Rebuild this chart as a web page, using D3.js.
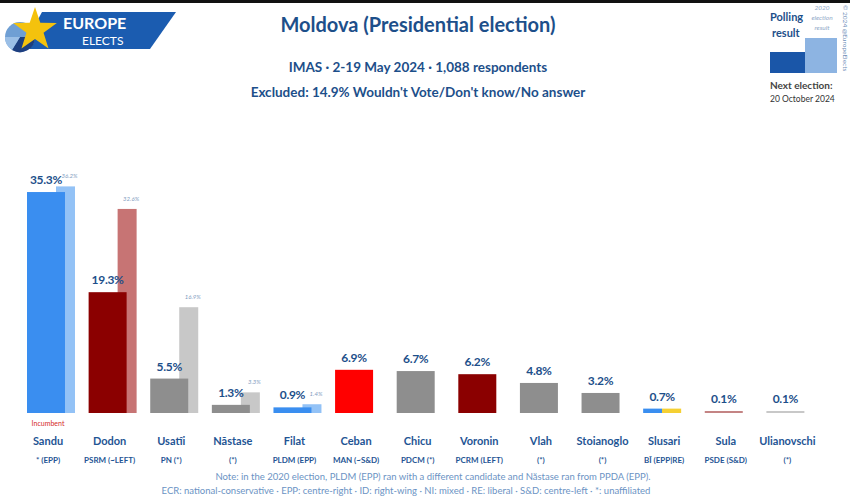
<!DOCTYPE html>
<html><head><meta charset="utf-8">
<script src="https://cdn.jsdelivr.net/npm/d3@7"></script>
<style>
body{margin:0;background:#fff;}
svg{display:block;font-family:Lato,"Open Sans",sans-serif;}
</style></head>
<body><svg id="c" width="850" height="499"></svg>
<script>
const candidates = ["Sandu","Dodon","Usatîi","Năstase","Filat","Ceban","Chicu","Voronin","Vlah","Stoianoglo","Slusari","Sula","Ulianovschi"];
const parties = ["* (EPP)","PSRM (~LEFT)","PN (*)","(*)","PLDM (EPP)","MAN (~S&D)","PDCM (*)","PCRM (LEFT)","(*)","(*)","BÎ (EPP|RE)","PSDE (S&D)","(*)"];
const polling = [35.3,19.3,5.5,1.3,0.9,6.9,6.7,6.2,4.8,3.2,0.7,0.1,0.1];
const previous = [36.2,32.6,16.9,3.3,1.4,null,null,null,null,null,null,null,null];
const barColors = ["#3a8ef0","#8b0000","#8e8e8e","#8e8e8e","#3a8ef0","#ff0000","#8e8e8e","#8b0000","#8e8e8e","#8e8e8e","split","#c48484","#c8c8c8"];
const prevColors = ["#93c2f6","#c77474","#c8c8c8","#c8c8c8","#93c2f6",null,null,null,null,null,null,null,null];

const svg = d3.select("#c");
const navy = "#1d4f8a";

svg.append("rect").attr("x",0).attr("y",0).attr("width",850).attr("height",3).attr("fill","#111");

const defs = svg.append("defs");
const g = defs.append("linearGradient").attr("id","split").attr("x1","0").attr("x2","1").attr("y1","0").attr("y2","0");
g.append("stop").attr("offset","0%").attr("stop-color","#3a8ef0");
g.append("stop").attr("offset","50%").attr("stop-color","#3a8ef0");
g.append("stop").attr("offset","50%").attr("stop-color","#f5d033");
g.append("stop").attr("offset","100%").attr("stop-color","#f5d033");

const x = d3.scaleBand().domain(candidates).range([17, 818]).paddingInner(0).paddingOuter(0);
const y = d3.scaleLinear().domain([0, 36.2]).range([413, 186.4]);
const mainOff = 10, mainW = 38, prevOff = 39, prevW = 19;

const data = candidates.map((c,i)=>({c, p:parties[i], v:polling[i], pv:previous[i], col:barColors[i], pcol:prevColors[i]}));

svg.append("g").selectAll("rect").data(data.filter(d=>d.pv!=null)).join("rect")
  .attr("x", d=>x(d.c)+prevOff).attr("width", prevW)
  .attr("y", d=>y(d.pv)).attr("height", d=>y(0)-y(d.pv))
  .attr("fill", d=>d.pcol);
svg.append("g").selectAll("text").data(data.filter(d=>d.pv!=null)).join("text")
  .attr("x", d=>x(d.c)+prevOff+prevW/2+4).attr("y", d=>y(d.pv)-8)
  .attr("text-anchor","middle").attr("font-size",6).attr("font-style","italic")
  .attr("fill","#7f9cc0").text(d=>d.pv.toFixed(1)+"%");

svg.append("g").selectAll("rect").data(data).join("rect")
  .attr("x", d=>x(d.c)+mainOff).attr("width", mainW)
  .attr("y", d=>Math.min(y(d.v), y(0)-2)).attr("height", d=>Math.max(y(0)-y(d.v),2))
  .attr("fill", d=>d.col==="split"?"url(#split)":d.col);

svg.append("g").selectAll("text").data(data).join("text")
  .attr("x", d=>x(d.c)+mainOff+mainW/2).attr("y", d=>Math.min(y(d.v), y(0)-2)-8)
  .attr("text-anchor","middle").attr("font-size",12).attr("font-weight",700)
  .attr("fill",navy).attr("letter-spacing","-0.3").text(d=>d.v.toFixed(1)+"%");

svg.append("g").selectAll("text").data(data).join("text")
  .attr("x", d=>x(d.c)+mainOff+mainW/2+2).attr("y", 445)
  .attr("text-anchor","middle").attr("font-size",11).attr("font-weight",700)
  .attr("fill","#1f5594").text(d=>d.c);
svg.append("g").selectAll("text").data(data).join("text")
  .attr("x", d=>x(d.c)+mainOff+mainW/2+2).attr("y", 463)
  .attr("text-anchor","middle").attr("font-size",8).attr("font-weight",700)
  .attr("fill","#1f5594").text(d=>d.p);

svg.append("text").attr("x", x("Sandu")+mainOff+mainW/2+2).attr("y",426)
  .attr("text-anchor","middle").attr("font-size",7).attr("fill","#d42a2a").text("Incumbent");

svg.append("text").attr("x",418).attr("y",32).attr("text-anchor","middle")
  .attr("font-size",20).attr("font-weight",700).attr("fill",navy).text("Moldova (Presidential election)");
svg.append("text").attr("x",418).attr("y",72).attr("text-anchor","middle")
  .attr("font-size",13.5).attr("font-weight",700).attr("fill",navy).text("IMAS · 2-19 May 2024 · 1,088 respondents");
svg.append("text").attr("x",418).attr("y",97).attr("text-anchor","middle")
  .attr("font-size",13.5).attr("font-weight",700).attr("fill",navy).text("Excluded: 14.9% Wouldn't Vote/Don't know/No answer");

svg.append("text").attr("x",433).attr("y",480).attr("text-anchor","middle")
  .attr("font-size",9.5).attr("fill","#6b93c4").text("Note: in the 2020 election, PLDM (EPP) ran with a different candidate and Năstase ran from PPDA (EPP).");
svg.append("text").attr("x",406).attr("y",494).attr("text-anchor","middle")
  .attr("font-size",9.5).attr("fill","#6b93c4").text("ECR: national-conservative · EPP: centre-right · ID: right-wing · NI: mixed · RE: liberal · S&D: centre-left · *: unaffiliated");

const logo = svg.append("g");
logo.append("path").attr("d","M42,12 L176,12 L150,49 L22,49 Z").attr("fill","#1b5cb0");
logo.append("circle").attr("cx",20).attr("cy",37).attr("r",15).attr("fill","#6f9fd4");
logo.append("path").attr("d","M20,37 L35,37 A15,15 0 0,1 12,50 Z").attr("fill","#1d3f80");
logo.append("path").attr("d","M20,37 L12,50 A15,15 0 0,1 5,37 Z").attr("fill","#9bbfe6");
const star = d3.range(10).map(i=>{const a=-Math.PI/2+i*Math.PI/5; const r=i%2?9:23; return [35+r*Math.cos(a), 30+r*Math.sin(a)];});
logo.append("path").attr("d","M"+star.map(p=>p.join(",")).join("L")+"Z").attr("fill","#f4c20d");
logo.append("text").attr("x",63).attr("y",29).attr("font-size",16).attr("font-weight",700).attr("fill","#fff").text("EUROPE");
logo.append("text").attr("x",82).attr("y",45).attr("font-size",12).attr("fill","#fff").text("ELECTS");

const lg = svg.append("g");
lg.append("text").attr("x",770).attr("y",21).attr("font-size",11).attr("font-weight",700).attr("fill",navy).text("Polling");
lg.append("text").attr("x",772).attr("y",37).attr("font-size",11).attr("font-weight",700).attr("fill",navy).text("result");
[["2020",10],["election",20],["result",30]].forEach(t=>lg.append("text").attr("x",822).attr("y",t[1]).attr("text-anchor","middle").attr("font-size",6.5).attr("font-style","italic").attr("fill","#8fa8c8").text(t[0]));
lg.append("rect").attr("x",805).attr("y",38).attr("width",32).attr("height",35).attr("fill","#8db4e2");
lg.append("rect").attr("x",770).attr("y",52).attr("width",35).attr("height",21).attr("fill","#1a56a8");
lg.append("text").attr("transform","translate(843,5) rotate(90)").attr("font-size",6.5).attr("fill","#6f8fb8").text("© 2024 @EuropeElects");
lg.append("text").attr("x",770).attr("y",89).attr("font-size",10).attr("font-weight",700).attr("fill","#444").text("Next election:");
lg.append("text").attr("x",770).attr("y",102).attr("font-size",8.5).attr("fill","#333").text("20 October 2024");
</script></body></html>
